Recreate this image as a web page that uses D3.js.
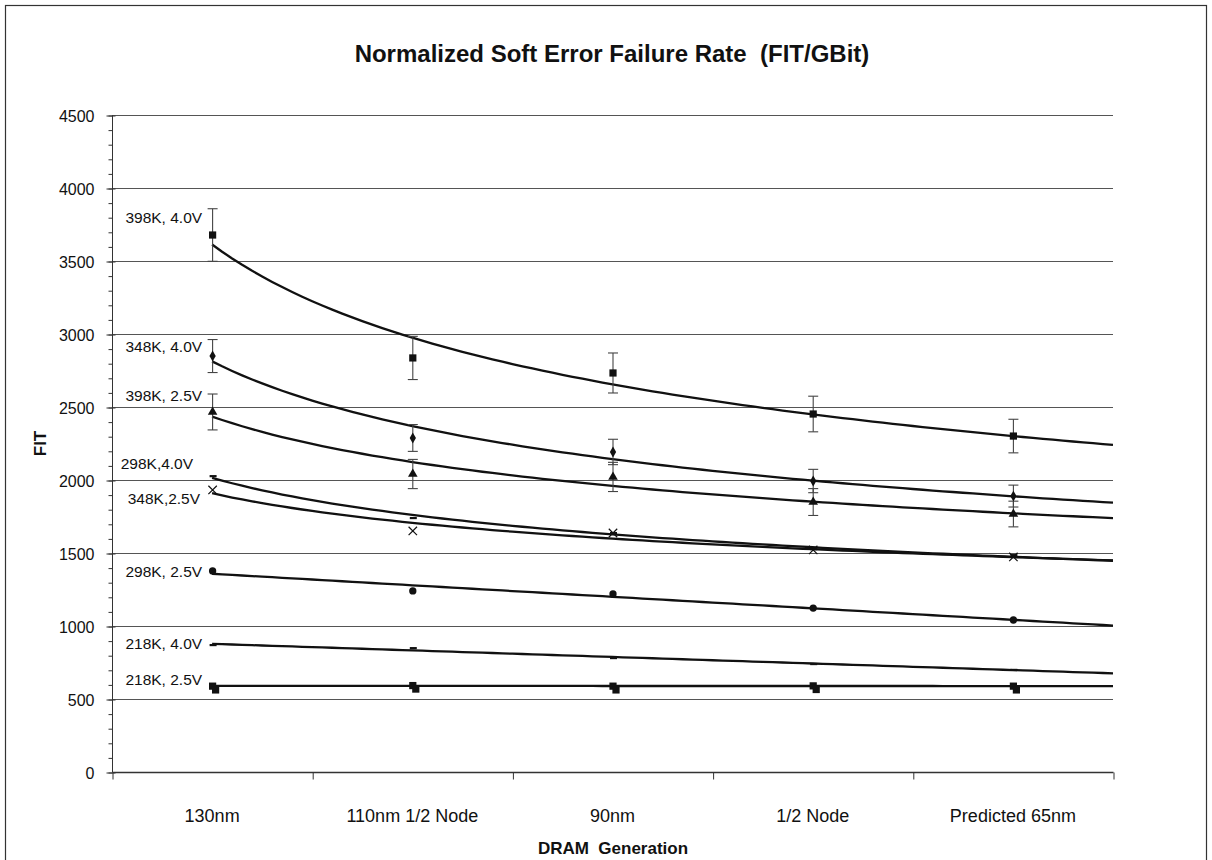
<!DOCTYPE html>
<html>
<head>
<meta charset="utf-8">
<script src="https://cdn.jsdelivr.net/npm/d3@7/dist/d3.min.js"></script>
<style>
  body { margin: 0; background: #fff; }
  svg text { font-family: "Liberation Sans", Arial, Helvetica, sans-serif; fill: #111; }
</style>
</head>
<body>
<svg id="chart" width="1212" height="860"></svg>
<script>
// ---- data ----
const categories = ["130nm", "110nm 1/2 Node", "90nm", "1/2 Node", "Predicted 65nm"];
const yTickValues = [0, 500, 1000, 1500, 2000, 2500, 3000, 3500, 4000, 4500];

const seriesLabels = ["398K, 4.0V", "348K, 4.0V", "398K, 2.5V", "298K,4.0V",
                      "348K,2.5V", "298K, 2.5V", "218K, 4.0V", "218K, 2.5V"];

const fit398K40 = [3678, 2836, 2733, 2452, 2301];
const err398K40 = [180, 148, 137, 122, 115];
const fit348K40 = [2849, 2288, 2192, 1993, 1890];
const err348K40 = [113, 92, 87, 80, 75];
const fit398K25 = [2466, 2041, 2021, 1849, 1767];
const err398K25 = [123, 100, 100, 92, 88];
const fit298K40 = [2027, 1740, 1637, 1527, 1486];
const fit348K25 = [1932, 1651, 1637, 1521, 1473];
const fit298K25 = [1377, 1240, 1219, 1123, 1041];
const fit218K40 = [870, 849, 781, 740, 700];
const fit218K25 = [588, 592, 588, 590, 588];
// second 218K, 2.5V measurement set (drawn as squares only)
const fit218K25b = [562, 568, 562, 565, 562];

// ---- series assembly ----
const series = [
  { label: seriesLabels[0], values: fit398K40, errors: err398K40, marker: "square",   trend: "power",  labelDy: -18 },
  { label: seriesLabels[1], values: fit348K40, errors: err348K40, marker: "diamond",  trend: "power",  labelDy: -10 },
  { label: seriesLabels[2], values: fit398K25, errors: err398K25, marker: "triangle", trend: "power",  labelDy: -17 },
  { label: seriesLabels[3], values: fit298K40, errors: null,      marker: "dash",     trend: "power",  labelDy: -13, labelDx: -9 },
  { label: seriesLabels[4], values: fit348K25, errors: null,      marker: "cross",    trend: "power",  labelDy: 8,   labelDx: -2 },
  { label: seriesLabels[5], values: fit298K25, errors: null,      marker: "circle",   trend: "linear", labelDy: 0 },
  { label: seriesLabels[6], values: fit218K40, errors: null,      marker: "dash",     trend: "linear", labelDy: -2 },
  { label: seriesLabels[7], values: fit218K25, errors: null,      marker: "square",   trend: "linear", labelDy: -7,
    extra: fit218K25b }
];

// ---- layout ----
const W = 1212, H = 860;
const plot = { left: 112, right: 1113, top: 115, bottom: 772 };

const svg = d3.select("#chart");

// outer frame
svg.append("rect")
  .attr("x", 5.5).attr("y", 5.5)
  .attr("width", W - 11).attr("height", H)
  .attr("fill", "none").attr("stroke", "#333").attr("stroke-width", 1.2);

// scales
const y = d3.scaleLinear().domain([0, 4500]).range([plot.bottom, plot.top]);
const xBand = d3.scaleBand().domain(categories).range([plot.left, plot.right]);
// continuous category index: category i (1-based) sits at the centre of its band
const xi = d3.scaleLinear().domain([0.5, categories.length + 0.5]).range([plot.left, plot.right]);

// horizontal gridlines
svg.append("g")
  .selectAll("line")
  .data(yTickValues.filter(v => v > 0))
  .join("line")
  .attr("x1", plot.left).attr("x2", plot.right)
  .attr("y1", d => y(d) + 0.5).attr("y2", d => y(d) + 0.5)
  .attr("stroke", "#555").attr("stroke-width", 1);

// y axis: minor ticks
const yMinor = d3.axisLeft(y).tickValues(d3.range(0, 4501, 100)).tickSize(4).tickFormat("");
svg.append("g").attr("transform", `translate(${plot.left + 0.5},0.5)`).call(yMinor)
  .call(g => g.select(".domain").remove())
  .call(g => g.selectAll("line").attr("stroke", "#333"));

// y axis: major ticks + labels
const yMajor = d3.axisLeft(y).tickValues(yTickValues).tickSize(6).tickPadding(12).tickFormat(d3.format("d"));
const gy = svg.append("g").attr("transform", `translate(${plot.left + 0.5},0.5)`).call(yMajor);
gy.select(".domain").attr("stroke", "#333").attr("d", `M0,${plot.top}V${plot.bottom}`);
gy.selectAll(".tick line").attr("stroke", "#333").attr("x2", 3).attr("x1", -6);
gy.selectAll(".tick text").attr("font-size", 16).attr("fill", "#111").attr("font-family", null).attr("dy", "0.36em");

// x axis: boundary ticks
const xTicks = d3.axisBottom(xi).tickValues(d3.range(0.5, categories.length + 1, 1)).tickSize(7).tickFormat("");
const gx = svg.append("g").attr("transform", `translate(0.5,${plot.bottom + 0.5})`).call(xTicks);
gx.select(".domain").attr("stroke", "#333").attr("stroke-width", 1.4).attr("d", `M${plot.left},0H${plot.right}`);
gx.selectAll("line").attr("stroke", "#333");

// x axis: category labels
const xLabels = d3.axisBottom(xBand).tickSize(0).tickPadding(0);
const gxl = svg.append("g").attr("transform", `translate(0,${plot.bottom})`).call(xLabels);
gxl.select(".domain").remove();
gxl.selectAll("text").attr("font-size", 18).attr("fill", "#111").attr("font-family", null)
  .attr("y", 50).attr("dy", null);

// titles
svg.append("text")
  .attr("x", 612).attr("y", 62).attr("text-anchor", "middle")
  .attr("font-size", 24).attr("font-weight", "bold")
  .style("white-space", "pre")
  .text("Normalized Soft Error Failure Rate  (FIT/GBit)");

svg.append("text")
  .attr("x", 613).attr("y", 854).attr("text-anchor", "middle")
  .attr("font-size", 17).attr("font-weight", "bold")
  .style("white-space", "pre")
  .text("DRAM  Generation");

svg.append("text")
  .attr("transform", `translate(46,${(plot.top + plot.bottom) / 2}) rotate(-90)`)
  .attr("text-anchor", "middle")
  .attr("font-size", 17).attr("font-weight", "bold")
  .text("FIT");

// ---- trend lines ----
function regress(values, type) {
  const xs = values.map((_, i) => i + 1);
  const tx = type === "power" ? xs.map(Math.log) : xs;
  const ty = type === "power" ? values.map(Math.log) : values;
  const mx = d3.mean(tx), my = d3.mean(ty);
  const b = d3.sum(tx, (t, i) => (t - mx) * (ty[i] - my)) / d3.sum(tx, t => (t - mx) ** 2);
  const a = my - b * mx;
  return type === "power"
    ? (x => Math.exp(a) * Math.pow(x, b))
    : (x => a + b * x);
}

const trendLine = d3.line().x(d => xi(d[0])).y(d => y(d[1]));
const gTrend = svg.append("g");
series.forEach(s => {
  const f = regress(s.values, s.trend);
  const pts = d3.range(1, categories.length + 0.5 + 1e-9, 0.05).map(x => [x, f(x)]);
  gTrend.append("path")
    .attr("d", trendLine(pts))
    .attr("fill", "none").attr("stroke", "#111").attr("stroke-width", 2.3)
    .attr("stroke-linejoin", "round");
});

// ---- error bars ----
const gErr = svg.append("g").attr("stroke", "#444").attr("stroke-width", 1.1);
series.filter(s => s.errors).forEach(s => {
  s.values.forEach((v, i) => {
    const cx = xi(i + 1) + 0.5;
    const e = s.errors[i];
    gErr.append("line").attr("x1", cx).attr("x2", cx).attr("y1", y(v + e)).attr("y2", y(v - e));
    gErr.append("line").attr("x1", cx - 5).attr("x2", cx + 5).attr("y1", y(v + e)).attr("y2", y(v + e));
    gErr.append("line").attr("x1", cx - 5).attr("x2", cx + 5).attr("y1", y(v - e)).attr("y2", y(v - e));
  });
});

// ---- markers ----
const symbolFor = {
  square: d3.symbol().type(d3.symbolSquare).size(52),
  diamond: d3.symbol().type(d3.symbolDiamond).size(34),
  triangle: d3.symbol().type(d3.symbolTriangle).size(40),
  circle: d3.symbol().type(d3.symbolCircle).size(42),
  cross: d3.symbol().type(d3.symbolX).size(48)
};
const gMarks = svg.append("g");
function drawMarker(kind, cx, cy) {
  if (kind === "dash") {
    gMarks.append("rect").attr("x", cx - 3).attr("y", cy - 1).attr("width", 7).attr("height", 2.2).attr("fill", "#111");
  } else if (kind === "cross") {
    gMarks.append("path").attr("d", symbolFor.cross()).attr("transform", `translate(${cx},${cy})`)
      .attr("fill", "none").attr("stroke", "#111").attr("stroke-width", 1.2);
  } else {
    gMarks.append("path").attr("d", symbolFor[kind]()).attr("transform", `translate(${cx},${cy})`)
      .attr("fill", "#111");
  }
}
series.forEach(s => {
  s.values.forEach((v, i) => drawMarker(s.marker, xi(i + 1) + 0.5, y(v)));
  if (s.extra) s.extra.forEach((v, i) => drawMarker(s.marker, xi(i + 1) + 3.5, y(v)));
});

// ---- series labels ----
const gLab = svg.append("g");
series.forEach(s => {
  gLab.append("text")
    .attr("x", xi(1) - 10 + (s.labelDx || 0))
    .attr("y", y(s.values[0]) + s.labelDy)
    .attr("dy", "0.36em")
    .attr("text-anchor", "end")
    .attr("font-size", 15.5)
    .text(s.label);
});
</script>
</body>
</html>
